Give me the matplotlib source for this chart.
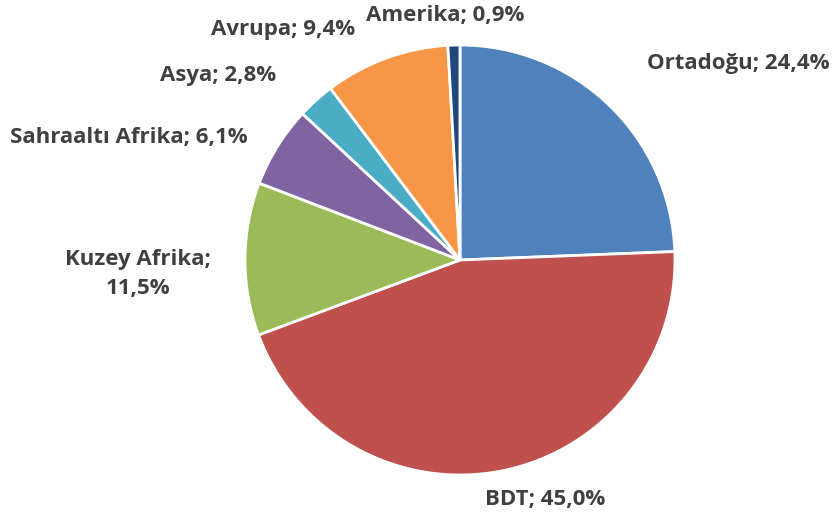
import matplotlib
matplotlib.use("Agg")
import matplotlib.pyplot as plt

# Regional shares (%)
regions = ["Ortadoğu", "BDT", "Kuzey Afrika", "Sahraaltı Afrika", "Asya", "Avrupa", "Amerika"]
shares = [24.4, 45.0, 11.5, 6.1, 2.8, 9.4, 0.9]
colors = ["#4F81BD", "#C0504D", "#9BBB59", "#8064A2", "#4BACC6", "#F79646", "#1F497D"]

# Label anchor points (axes units, origin bottom-left) and line breaks
label_pos = [(738, 454), (545, 17), (138, 243), (129, 379), (218, 442), (283, 487), (445, 502)]
label_text = [
    "Ortadoğu; {}%",
    "BDT; {}%",
    "Kuzey Afrika;\n{}%",
    "Sahraaltı Afrika; {}%",
    "Asya; {}%",
    "Avrupa; {}%",
    "Amerika; {}%",
]

fig = plt.figure(figsize=(8.35, 5.17), dpi=100)
ax = fig.add_axes([0, 0, 1, 1])

ax.pie(shares, colors=colors, startangle=90, counterclock=False,
       center=(460, 257), radius=215, frame=True,
       wedgeprops=dict(edgecolor="white", linewidth=2))
ax.set_xlim(0, 835)
ax.set_ylim(0, 517)
ax.set_aspect("equal")
ax.axis("off")

for (x, y), fmt, v in zip(label_pos, label_text, shares):
    ax.text(x, y, fmt.format(f"{v:.1f}".replace(".", ",")),
            ha="center", va="center", fontsize=16, fontweight="bold",
            color="#404040", family="Open Sans", linespacing=1.45)

fig.savefig("out.png", dpi=100)
